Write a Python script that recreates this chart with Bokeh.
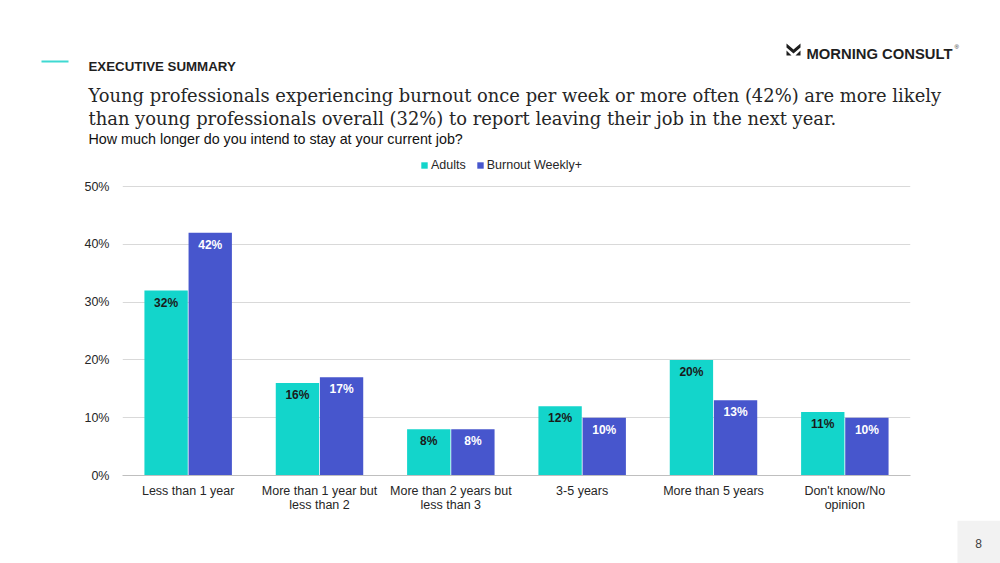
from bokeh.plotting import figure
from bokeh.models import (FactorRange, ColumnDataSource, LabelSet, Legend, LegendItem,
                          FixedTicker, CategoricalAxis, Range1d, CustomJSTickFormatter)
from bokeh.layouts import column
from bokeh.transform import dodge
from bokeh.core.properties import value
from bokeh.embed import file_html
from bokeh.resources import INLINE

categories = ["Less than 1 year", "More than 1 year but less than 2",
              "More than 2 years but less than 3", "3-5 years",
              "More than 5 years", "Don't know/No opinion"]
tick_line1 = ["Less than 1 year", "More than 1 year but", "More than 2 years but",
              "3-5 years", "More than 5 years", "Don't know/No"]
tick_line2 = ["", "less than 2", "less than 3", "", "", "opinion"]
adults = [32, 16, 8, 12, 20, 11]
burnout = [42, 17, 8, 10, 13, 10]
series_names = ["Adults", "Burnout Weekly+"]
y_ticks = [0, 10, 20, 30, 40, 50]

TEAL = "#13d5cb"
BLUE = "#4756cd"
SANS = "Liberation Sans"
DARK = "#262626"

W = 1000
HEAD_B = 150          # header figure bottom (page y)
FOOT_T = 520          # footer figure top (page y)
FL, FR, FT, FB = 122, 910, 186, 475  # plotting frame in page px

# ---------------- header ----------------
head = figure(width=W, height=HEAD_B, x_range=Range1d(0, W), y_range=Range1d(HEAD_B, 0),
              output_backend="svg", toolbar_location=None, x_axis_location=None,
              y_axis_location=None, min_border=0, outline_line_color=None, frame_align=False)
head.grid.visible = False

head.quad(left=[41], right=[68], top=[60], bottom=[62], fill_color="#3fd9d2", line_color=None)

def htext(fig, x, y, t, size, font=SANS, style="normal", color=DARK, align="left", baseline="alphabetic"):
    fig.text(x=[x], y=[y], text=[t], text_font=value(font), text_font_size=size,
             text_font_style=style, text_color=color, text_align=align, text_baseline=baseline)

htext(head, 88, 66, "EXECUTIVE SUMMARY", "13.3px", style="bold", color="#1f1f1f")
htext(head, 88, 95, "Young professionals experiencing burnout once per week or more often (42%) are more likely",
      "17.9px", font="DejaVu Serif")
htext(head, 88, 118, "than young professionals overall (32%) to report leaving their job in the next year.",
      "17.9px", font="DejaVu Serif")
htext(head, 88, 138, "How much longer do you intend to stay at your current job?", "14.3px", color="#111111")

# logo
htext(head, 952, 53.5, "MORNING CONSULT", "14.8px", style="bold", color="#1f1f1f", align="right")
htext(head, 954, 46, "®", "6px", color="#1f1f1f")
head.patch(x=[786, 793, 800, 800, 793, 786], y=[43, 49, 43, 47, 53, 47], fill_color="#1f1f1f", line_color=None)
head.patch(x=[786, 791, 786], y=[50, 55, 55], fill_color="#1f1f1f", line_color=None)
head.patch(x=[800, 795, 800], y=[50, 55, 55], fill_color="#1f1f1f", line_color=None)

# ---------------- chart ----------------
CH = FOOT_T - HEAD_B
y_top = 50 * (FB - HEAD_B) / (FB - FT)
p = figure(x_range=FactorRange(*categories), y_range=Range1d(0, y_top), width=W, height=CH,
           output_backend="svg", toolbar_location=None, frame_align=False,
           min_border_left=FL, min_border_right=W - FR,
           min_border_top=0, min_border_bottom=FOOT_T - FB)
p.outline_line_color = None

src = ColumnDataSource(dict(cat=categories, adults=adults, burnout=burnout,
                            a_lbl=[f"{v}%" for v in adults],
                            b_lbl=[f"{v}%" for v in burnout]))

r1 = p.vbar(x=dodge("cat", -0.168, range=p.x_range), top="adults", width=0.33, source=src,
            fill_color=TEAL, line_color=None)
r2 = p.vbar(x=dodge("cat", 0.168, range=p.x_range), top="burnout", width=0.33, source=src,
            fill_color=BLUE, line_color=None)

p.add_layout(LabelSet(x=dodge("cat", -0.168, range=p.x_range), y="adults", text="a_lbl", source=src,
                      text_align="center", text_baseline="top", y_offset=-5,
                      text_font=value(SANS), text_font_size="12px", text_font_style="bold",
                      text_color="#1a1a1a"))
p.add_layout(LabelSet(x=dodge("cat", 0.168, range=p.x_range), y="burnout", text="b_lbl", source=src,
                      text_align="center", text_baseline="top", y_offset=-5,
                      text_font=value(SANS), text_font_size="12px", text_font_style="bold",
                      text_color="white"))

p.yaxis.ticker = FixedTicker(ticks=y_ticks)
p.yaxis.major_label_overrides = {t: f"{t}%" for t in y_ticks}
p.yaxis.axis_line_color = None
p.yaxis.major_tick_line_color = None
p.yaxis.major_tick_out = 0
p.yaxis.minor_tick_line_color = None
p.yaxis.minor_tick_out = 0
p.yaxis.major_label_text_font = SANS
p.yaxis.major_label_text_font_size = "12.5px"
p.yaxis.major_label_text_color = DARK
p.yaxis.major_label_standoff = 13

fmt_code = "const i = cats.indexOf(tick); return i >= 0 ? lines[i] : '';"
p.xaxis.formatter = CustomJSTickFormatter(args=dict(cats=categories, lines=tick_line1), code=fmt_code)
p.xaxis.axis_line_color = "#bfbfbf"
p.xaxis.major_tick_line_color = None
p.xaxis.major_tick_out = 0
p.xaxis.major_label_text_font = SANS
p.xaxis.major_label_text_font_size = "12.5px"
p.xaxis.major_label_text_color = DARK
p.xaxis.major_label_standoff = 8

ax2 = CategoricalAxis(formatter=CustomJSTickFormatter(args=dict(cats=categories, lines=tick_line2), code=fmt_code),
                      axis_line_color=None, major_tick_line_color=None, major_tick_out=0,
                      major_label_standoff=-3, major_label_text_font=SANS,
                      major_label_text_font_size="12.5px", major_label_text_color=DARK)
p.add_layout(ax2, "below")

p.xgrid.grid_line_color = None
p.ygrid.ticker = FixedTicker(ticks=y_ticks)
p.ygrid.grid_line_color = "#d9d9d9"
p.x_range.range_padding = 0

legend = Legend(items=[LegendItem(label=series_names[0], renderers=[r1]),
                       LegendItem(label=series_names[1], renderers=[r2])],
                orientation="horizontal", location=(420 - FL, FB - 172),
                label_text_font=SANS, label_text_font_size="12.5px", label_text_color=DARK,
                glyph_width=8, glyph_height=8, label_height=14, label_standoff=3, spacing=10,
                padding=0, margin=0, border_line_color=None, background_fill_alpha=0)
p.add_layout(legend, "center")

# ---------------- footer ----------------
FH = 563 - FOOT_T
foot = figure(width=W, height=FH, x_range=Range1d(0, W), y_range=Range1d(563, FOOT_T),
              output_backend="svg", toolbar_location=None, x_axis_location=None,
              y_axis_location=None, min_border=0, outline_line_color=None, frame_align=False)
foot.grid.visible = False
foot.quad(left=[957], right=[1000], top=[520], bottom=[563], fill_color="#f2f2f2", line_color=None)
htext(foot, 978, 543, "8", "12px", color="#404040", align="center")

layout = column(head, p, foot, spacing=0)
open("out.html", "w").write(file_html(layout, INLINE))
